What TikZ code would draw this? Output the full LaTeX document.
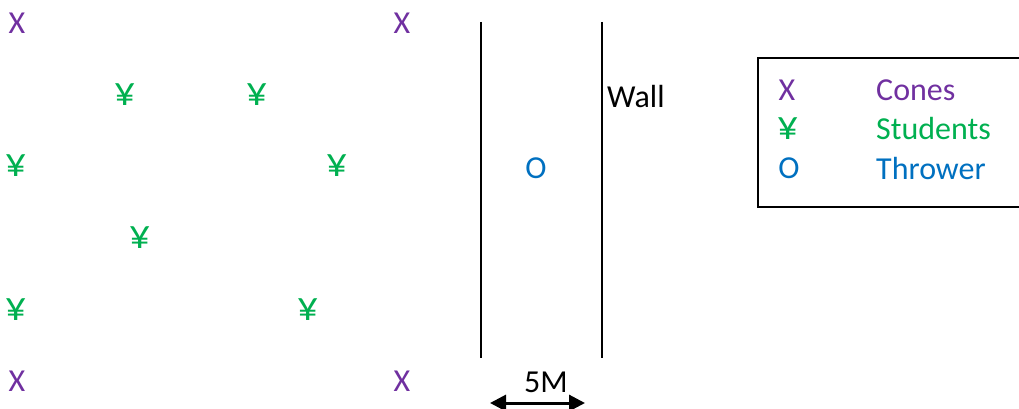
\documentclass[tikz,border=0pt]{standalone}
\usepackage{fontspec}
\setmainfont{Carlito}
\usetikzlibrary{arrows.meta}
\definecolor{cone}{HTML}{7030A0}
\definecolor{stud}{HTML}{00B050}
\definecolor{thr}{HTML}{0070C0}
\newcommand{\yen}{\scalebox{1.3}{¥}}
\tikzset{
  lbl/.style={inner sep=0pt, font=\fontsize{32}{36}\selectfont},
  conemark/.style={lbl, text=cone},
  studmark/.style={lbl, text=stud},
  thrmark/.style={lbl, text=thr},
  wall/.style={line width=2pt},
  dim/.style={line width=3pt, {Triangle[width=16pt,length=16pt]}-{Triangle[width=16pt,length=16pt]}}
}
\begin{document}
\begin{tikzpicture}[x=1pt,y=-1pt]
\useasboundingbox (0,0) rectangle (1019,409);
% cones
\node[conemark] (c1) at (17,23) {X};
\node[conemark] (c2) at (402,23) {X};
\node[conemark] (c3) at (17,381) {X};
\node[conemark] (c4) at (402,381) {X};
% students
\node[studmark] (s1) at (125,95) {\yen};
\node[studmark] (s2) at (257,95) {\yen};
\node[studmark] (s3) at (16,166) {\yen};
\node[studmark] (s4) at (337,166) {\yen};
\node[studmark] (s5) at (140,238) {\yen};
\node[studmark] (s6) at (16,310) {\yen};
\node[studmark] (s7) at (308,310) {\yen};
% thrower
\node[thrmark] (t) at (536,168) {O};
% walls
\coordinate (w1t) at (481,22);
\coordinate (w1b) at (481,358);
\coordinate (w2t) at (602,22);
\coordinate (w2b) at (602,358);
\draw[wall] (w1t) -- (w1b);
\draw[wall] (w2t) -- (w2b);
\node[lbl, anchor=west] (wall) at (607,97) {Wall};
% dimension
\node[lbl] (dm) at (546,382) {5M};
\coordinate (da) at (490,403);
\coordinate (db) at (585,403);
\draw[dim] (da) -- (db);
% legend
\draw[line width=2pt] (758,58) rectangle (1030,207);
\node[conemark] (lx) at (787,90) {X};
\node[lbl, anchor=west, text=cone] (lxt) at (876,90) {Cones};
\node[studmark] (ly) at (788,129) {\yen};
\node[lbl, anchor=west, text=stud] (lyt) at (876,129) {Students};
\node[thrmark] (lo) at (789,168) {O};
\node[lbl, anchor=west, text=thr] (lot) at (876,168) {Thrower};
\end{tikzpicture}
\end{document}
